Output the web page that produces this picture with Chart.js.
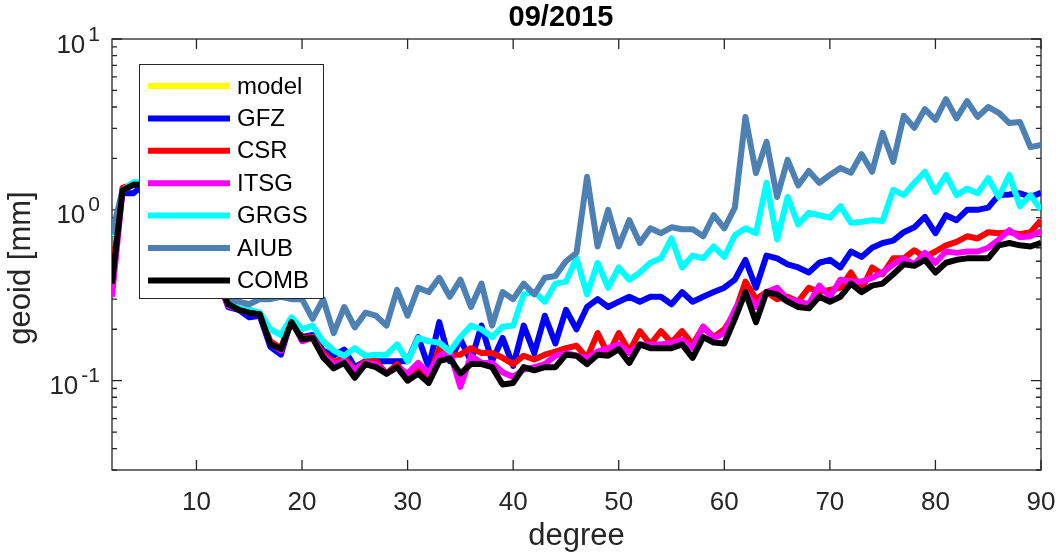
<!DOCTYPE html>
<html>
<head>
<meta charset="utf-8">
<script src="https://cdn.jsdelivr.net/npm/chart.js@4.4.1/dist/chart.umd.min.js"></script>
<style>
  html, body { margin: 0; padding: 0; background: #fff; }
</style>
</head>
<body>
<canvas id="chart" width="1056" height="556"></canvas>
<script>
// spherical harmonic degree 2..90
let degrees = [2,3,4,5,6,7,8,9,10,11,12,13,14,15,16,17,18,19,20,21,22,23,24,25,26,27,28,29,30,
  31,32,33,34,35,36,37,38,39,40,41,42,43,44,45,46,47,48,49,50,51,52,53,54,55,56,57,58,59,60,
  61,62,63,64,65,66,67,68,69,70,71,72,73,74,75,76,77,78,79,80,81,82,83,84,85,86,87,88,89,90];

let model = [];   // not visible in the picture
let gfz = [0.72,1.25,1.25,1.4,1.3,1.1,0.9,0.75,0.6,0.5,0.4,
  0.27,0.26,0.235,0.24,0.158,0.142,0.23,0.18,0.185,0.15,0.14,
  0.152,0.12,0.13,0.13,0.13,0.13,0.13,0.18,0.12,0.22,0.13,0.175,0.13,0.21,0.13,0.178,0.122,0.21,0.145,0.24,0.165,0.26,0.2,
  0.27,0.3,0.27,0.29,0.31,0.29,0.31,0.31,0.28,0.33,0.29,0.31,0.33,0.35,0.39,0.51,0.35,0.54,0.52,0.48,0.46,0.43,
  0.49,0.51,0.46,0.57,0.53,0.6,0.64,0.66,0.74,0.79,0.91,0.73,0.93,0.87,1.0,1.0,1.03,1.22,1.23,1.25,1.19,1.26];
let csr = [0.4,1.35,1.4,1.4,1.3,1.1,0.9,0.75,0.6,0.5,0.4,
  0.28,0.265,0.26,0.245,0.17,0.155,0.23,0.178,0.18,0.145,0.128,
  0.136,0.116,0.13,0.13,0.11,0.125,0.105,0.12,0.105,0.155,0.142,0.142,0.155,0.145,0.145,0.136,0.125,0.14,0.133,0.142,0.148,0.155,0.16,
  0.136,0.19,0.142,0.19,0.148,0.195,0.163,0.195,0.167,0.195,0.163,0.207,0.18,0.2,0.25,0.38,0.3,0.33,0.3,0.31,0.29,0.35,
  0.33,0.34,0.35,0.43,0.34,0.46,0.42,0.52,0.52,0.58,0.53,0.57,0.62,0.65,0.7,0.68,0.74,0.73,0.74,0.72,0.74,0.87];
let itsg = [0.31,1.3,1.4,1.4,1.3,1.1,0.9,0.75,0.6,0.5,0.4,
  0.275,0.26,0.25,0.245,0.165,0.15,0.23,0.17,0.178,0.14,0.125,
  0.13,0.116,0.127,0.125,0.11,0.12,0.11,0.127,0.11,0.14,0.148,0.092,0.14,0.127,0.127,0.112,0.105,0.116,0.12,0.125,0.14,0.145,0.14,
  0.136,0.148,0.155,0.163,0.145,0.163,0.163,0.163,0.167,0.173,0.155,0.207,0.177,0.19,0.26,0.33,0.27,0.33,0.35,0.3,0.29,0.28,
  0.36,0.31,0.39,0.38,0.38,0.4,0.43,0.48,0.52,0.48,0.56,0.49,0.57,0.56,0.57,0.57,0.6,0.67,0.76,0.69,0.7,0.75];
let grgs = [0.7,1.3,1.45,1.45,1.3,1.1,0.9,0.75,0.6,0.5,0.4,
  0.29,0.265,0.26,0.25,0.2,0.185,0.235,0.2,0.21,0.17,0.15,
  0.14,0.155,0.14,0.142,0.142,0.163,0.13,0.178,0.17,0.167,0.148,0.18,0.21,0.2,0.18,0.207,0.21,0.32,0.33,0.29,0.37,0.38,0.52,
  0.32,0.49,0.35,0.46,0.39,0.43,0.49,0.52,0.68,0.46,0.54,0.52,0.61,0.53,0.71,0.78,0.73,1.44,0.67,1.19,0.82,0.96,
  0.93,0.9,1.05,0.84,0.85,0.87,0.86,1.31,1.22,1.44,1.67,1.27,1.6,1.22,1.33,1.25,1.53,1.19,1.6,1.05,1.22,1.0];
let aiub = [0.72,1.3,1.4,1.4,1.3,1.1,0.9,0.75,0.6,0.5,0.42,
  0.3,0.29,0.28,0.3,0.3,0.31,0.3,0.3,0.23,0.3,0.19,
  0.27,0.205,0.25,0.24,0.21,0.34,0.24,0.35,0.33,0.4,0.31,0.39,0.27,0.37,0.21,0.33,0.3,0.37,0.32,0.4,0.41,0.5,0.56,
  1.56,0.61,1.0,0.61,0.87,0.64,0.78,0.73,0.79,0.77,0.77,0.7,0.93,0.78,1.03,3.5,1.64,2.5,1.19,1.96,1.39,1.69,
  1.44,1.6,1.76,1.65,2.12,1.67,2.82,1.91,3.55,3.02,3.89,3.36,4.45,3.43,4.33,3.5,4.0,3.7,3.22,3.27,2.33,2.4];
let comb = [0.37,1.3,1.4,1.4,1.3,1.1,0.9,0.75,0.6,0.5,0.4,
  0.28,0.26,0.25,0.245,0.164,0.153,0.22,0.175,0.178,0.137,0.118,
  0.127,0.104,0.125,0.12,0.11,0.12,0.1,0.11,0.097,0.13,0.135,0.11,0.125,0.125,0.12,0.095,0.097,0.12,0.115,0.12,0.12,0.142,0.14,
  0.125,0.142,0.14,0.153,0.127,0.163,0.155,0.155,0.155,0.163,0.136,0.18,0.167,0.165,0.23,0.33,0.22,0.33,0.32,0.29,0.27,0.265,
  0.31,0.29,0.31,0.37,0.33,0.36,0.37,0.42,0.48,0.47,0.51,0.43,0.49,0.51,0.52,0.52,0.52,0.62,0.64,0.62,0.61,0.64];

let names = ['model','GFZ','CSR','ITSG','GRGS','AIUB','COMB'];
let colors = ['#ffff00','#0000ff','#ff0000','#ff00ff','#00ffff','#4d80b3','#000000'];
let series = [model, gfz, csr, itsg, grgs, aiub, comb];

let xTicks = [10,20,30,40,50,60,70,80,90];
let yDecades = [0.1, 1, 10];
let yExponents = ['-1','0','1'];
let yMinor = [0.03,0.04,0.05,0.06,0.07,0.08,0.09,0.2,0.3,0.4,0.5,0.6,0.7,0.8,0.9,2,3,4,5,6,7,8,9];

const FONT = 'Liberation Sans, Arial, Helvetica, sans-serif';
const AXC = '#262626';
Chart.defaults.font.family = FONT;

function pts(arr) {
  return arr.map((v, i) => ({ x: degrees[i], y: v }));
}

// axes box, inward ticks, y labels with exponents, titles
const axesBox = {
  id: 'axesBox',
  beforeDatasetsDraw(chart) {
    const { ctx, chartArea: a, scales } = chart;
    const x = scales.x, y = scales.y;
    ctx.save();
    ctx.strokeStyle = AXC;
    ctx.lineWidth = 1.3;
    ctx.strokeRect(a.left, a.top, a.right - a.left, a.bottom - a.top);
    ctx.beginPath();
    xTicks.forEach(t => {
      const px = x.getPixelForValue(t);
      ctx.moveTo(px, a.bottom); ctx.lineTo(px, a.bottom - 10);
      ctx.moveTo(px, a.top); ctx.lineTo(px, a.top + 10);
    });
    yDecades.forEach(t => {
      const py = y.getPixelForValue(t);
      ctx.moveTo(a.left, py); ctx.lineTo(a.left + 10, py);
      ctx.moveTo(a.right, py); ctx.lineTo(a.right - 10, py);
    });
    yMinor.forEach(t => {
      const py = y.getPixelForValue(t);
      ctx.moveTo(a.left, py); ctx.lineTo(a.left + 5, py);
      ctx.moveTo(a.right, py); ctx.lineTo(a.right - 5, py);
    });
    ctx.stroke();

    // y tick labels 10^n
    ctx.fillStyle = AXC;
    ctx.textBaseline = 'alphabetic';
    yDecades.forEach((t, i) => {
      const py = y.getPixelForValue(t);
      ctx.font = '21px ' + FONT;
      ctx.textAlign = 'right';
      const ew = ctx.measureText(yExponents[i]).width;
      ctx.fillText(yExponents[i], 100, py + 1.5);
      ctx.font = '26px ' + FONT;
      ctx.fillText('10', 100 - ew - 3, py + 13.5);
    });

    // y axis label
    ctx.save();
    ctx.translate(21, 268);
    ctx.rotate(-Math.PI / 2);
    ctx.font = '31px ' + FONT;
    ctx.textAlign = 'center';
    ctx.textBaseline = 'middle';
    ctx.fillText('geoid [mm]', 0, 0);
    ctx.restore();

    // title
    ctx.fillStyle = '#000';
    ctx.font = 'bold 29px ' + FONT;
    ctx.textAlign = 'center';
    ctx.fillText('09/2015', 561, 26);
    ctx.restore();
  }
};

// legend box inside the axes
const boxLegend = {
  id: 'boxLegend',
  afterDraw(chart) {
    const ctx = chart.ctx;
    ctx.save();
    ctx.fillStyle = '#fff';
    ctx.fillRect(139, 64, 184, 234);
    ctx.strokeStyle = AXC;
    ctx.lineWidth = 1;
    ctx.strokeRect(139.5, 64.5, 184, 234);
    ctx.font = '24px ' + FONT;
    ctx.textAlign = 'left';
    ctx.textBaseline = 'middle';
    names.forEach((n, i) => {
      const yy = 86 + i * 32.4;
      ctx.strokeStyle = colors[i];
      ctx.lineWidth = 6;
      ctx.beginPath();
      ctx.moveTo(148, yy); ctx.lineTo(230, yy);
      ctx.stroke();
      ctx.fillStyle = '#000';
      ctx.fillText(n, 237, yy + 1);
    });
    ctx.restore();
  }
};

new Chart(document.getElementById('chart'), {
  type: 'line',
  data: {
    datasets: series.map((s, i) => ({
      label: names[i],
      data: pts(s),
      borderColor: colors[i],
      backgroundColor: colors[i],
      borderWidth: 6,
      borderJoinStyle: 'round',
      pointRadius: 0,
      tension: 0,
      fill: false,
      order: series.length - i
    }))
  },
  options: {
    responsive: false,
    animation: false,
    devicePixelRatio: 1,
    layout: { padding: { top: 39, right: 0, left: 0, bottom: 0 } },
    plugins: {
      legend: { display: false },
      tooltip: { enabled: false },
      title: { display: false }
    },
    scales: {
      x: {
        type: 'linear',
        min: 2,
        max: 90,
        grid: { display: false },
        border: { display: false },
        afterBuildTicks: s => { s.ticks = xTicks.map(v => ({ value: v })); },
        afterFit: s => { s.height = 86; s.paddingLeft = 0; s.paddingRight = 15; },
        ticks: { color: AXC, font: { size: 26 }, padding: 9, maxRotation: 0 },
        title: { display: true, text: 'degree', color: AXC, font: { size: 31 }, padding: { top: 0, bottom: 1 } }
      },
      y: {
        type: 'logarithmic',
        min: 0.03,
        max: 10,
        grid: { display: false },
        border: { display: false },
        afterBuildTicks: s => { s.ticks = yDecades.concat(yMinor).map(v => ({ value: v })); },
        afterFit: s => { s.width = 112; s.paddingTop = 0; s.paddingBottom = 0; },
        ticks: { display: false }
      }
    }
  },
  plugins: [axesBox, boxLegend]
});
</script>
</body>
</html>
